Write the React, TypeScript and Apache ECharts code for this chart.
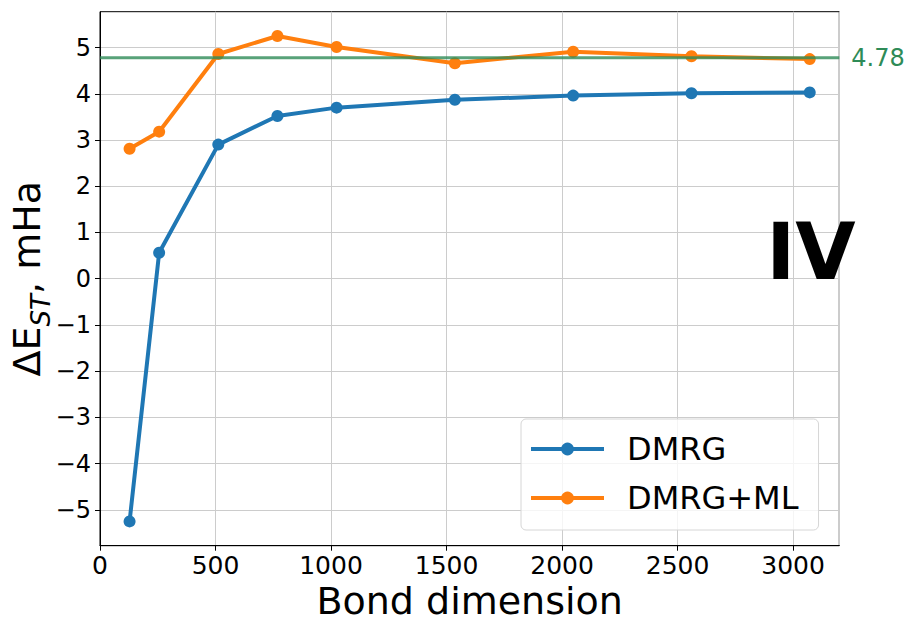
import React, { useEffect, useRef } from "react";
import * as echarts from "echarts";

const bondDims = [128, 256, 512, 768, 1024, 1536, 2048, 2560, 3072];
const dmrg = [-5.25, 0.56, 2.9, 3.52, 3.7, 3.87, 3.96, 4.01, 4.03];
const dmrgMl = [2.81, 3.18, 4.86, 5.25, 5.01, 4.66, 4.91, 4.81, 4.75];
const refValue = 4.78;
const xRange = [0, 3200];
const yRange = [-5.775, 5.775];
const yTicks = [-5, -4, -3, -2, -1, 0, 1, 2, 3, 4, 5];
const seriesNames = ["DMRG", "DMRG+ML"];

const FONT = "DejaVu Sans";

export default function App() {
  const ref = useRef<HTMLDivElement>(null);
  useEffect(() => {
    if (!ref.current) return;
    const chart = echarts.init(ref.current, undefined, { renderer: "svg" });
    const minus = (v: number) => (v < 0 ? "\u2212" + Math.abs(v) : String(v));
    chart.setOption({
      animation: false,
      backgroundColor: "#ffffff",
      grid: {
        left: 100,
        top: 11.7,
        right: 72.7,
        bottom: 73.3,
        show: true,
        borderColor: "#000",
        borderWidth: 1,
        backgroundColor: "transparent",
        containLabel: false,
        outerBoundsMode: "none",
      },
      xAxis: {
        type: "value",
        min: xRange[0],
        max: xRange[1],
        interval: 500,
        name: "Bond dimension",
        nameLocation: "middle",
        nameGap: 37,
        nameMoveOverlap: false,
        nameTextStyle: { fontFamily: FONT, fontSize: 38, lineHeight: 36, color: "#000" },
        axisLine: { show: true, onZero: false, lineStyle: { color: "#000", width: 1 } },
        axisTick: { show: true, length: 5, lineStyle: { color: "#000" } },
        axisLabel: {
          fontFamily: FONT,
          fontSize: 25,
          color: "#000",
          margin: 7,
          showMaxLabel: false,
          formatter: (v: number) => String(v),
        },
        splitLine: { show: true, lineStyle: { color: "#cccccc", width: 1 } },
      },
      yAxis: {
        type: "value",
        min: yRange[0],
        max: yRange[1],
        name: "{a|ΔE}{b|ST}{a|, mHa}",
        nameLocation: "middle",
        nameGap: 54,
        nameMoveOverlap: false,
        nameRotate: 90,
        nameTextStyle: {
          fontFamily: FONT,
          color: "#000",
          rich: {
            a: { fontFamily: FONT, fontSize: 38, lineHeight: 38, color: "#000" },
            b: {
              fontFamily: FONT,
              fontSize: 26,
              lineHeight: 26,
              fontStyle: "italic",
              color: "#000",
              verticalAlign: "bottom",
              padding: [0, 0, -8, 0],
            },
          },
        },
        axisLine: { show: true, onZero: false, lineStyle: { color: "#000", width: 1 } },
        axisTick: {
          show: true,
          length: 5,
          lineStyle: { color: "#000" },
          customValues: yTicks,
        },
        axisLabel: {
          fontFamily: FONT,
          fontSize: 24,
          color: "#000",
          margin: 9,
          customValues: yTicks,
          formatter: (v: number) => minus(v),
        },
        splitLine: {
          show: true,
          lineStyle: { color: "#cccccc", width: 1 },
          customValues: yTicks,
        },
      },
      legend: {
        data: seriesNames,
        orient: "vertical",
        left: 521,
        top: 419,
        width: 302,
        padding: [14, 20, 16, 8],
        itemGap: 17,
        itemWidth: 73,
        itemHeight: 16,
        backgroundColor: "rgba(255,255,255,0.8)",
        borderColor: "#d6d6d6",
        borderWidth: 1,
        borderRadius: 5,
        lineStyle: { width: 4 },
        textStyle: {
          fontFamily: FONT,
          fontSize: 32,
          color: "#000",
          padding: [0, 0, 0, 18],
        },
      },
      series: [
        {
          name: seriesNames[0],
          type: "line",
          data: bondDims.map((x, i) => [x, dmrg[i]]),
          color: "#1f77b4",
          symbol: "circle",
          symbolSize: 12,
          lineStyle: { width: 4, color: "#1f77b4" },
          itemStyle: { color: "#1f77b4" },
          z: 2,
        },
        {
          name: seriesNames[1],
          type: "line",
          data: bondDims.map((x, i) => [x, dmrgMl[i]]),
          color: "#ff7f0e",
          symbol: "circle",
          symbolSize: 12,
          lineStyle: { width: 4, color: "#ff7f0e" },
          itemStyle: { color: "#ff7f0e" },
          z: 3,
        },
        {
          name: "ref",
          type: "line",
          data: [
            [xRange[0], refValue],
            [xRange[1], refValue],
          ],
          symbol: "none",
          lineStyle: { width: 3, color: "#2e8b57", opacity: 0.8 },
          z: 4,
          silent: true,
          endLabel: {
            show: true,
            formatter: String(refValue),
            color: "#2e8b57",
            fontFamily: FONT,
            fontSize: 24,
            distance: 12,
          },
        },
      ],
      graphic: [
        {
          type: "text",
          x: 811,
          y: 252,
          style: {
            text: "IV",
            fontFamily: FONT,
            fontWeight: "bold",
            fontSize: 78,
            fill: "#000",
            align: "center",
            verticalAlign: "middle",
          },
          z: 10,
        },
      ],
    });
    return () => chart.dispose();
  }, []);
  return (
    <div
      ref={ref}
      style={{ position: "fixed", left: 0, top: 0, width: 912, height: 619 }}
    />
  );
}
